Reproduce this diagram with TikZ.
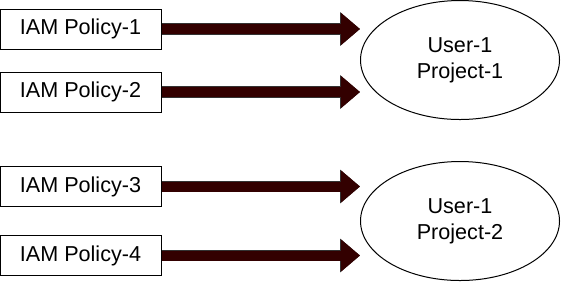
\documentclass[tikz,border=0pt]{standalone}
\usepackage{fontspec}
\setmainfont{Liberation Sans}
\usetikzlibrary{arrows.meta,shapes.geometric}
\definecolor{arrowred}{HTML}{330000}
\begin{document}
\begin{tikzpicture}[x=0.5pt,y=-0.5pt,
  policy/.style={draw,line width=0.5pt,minimum width=80.5pt,minimum height=20pt,inner sep=0pt,font=\fontsize{10.8}{13}\selectfont},
  user/.style={draw,ellipse,line width=0.5pt,minimum width=99.5pt,minimum height=59.5pt,inner sep=0pt,align=center,font=\fontsize{10.8}{13}\selectfont},
  fat/.style={draw=arrowred,line width=5pt,-{Triangle[length=9.5pt,width=15.5pt]},
    preaction={draw=black!80,line width=5.6pt,-{Triangle[length=10pt,width=16.3pt]}}}]
  \useasboundingbox (0,0) rectangle (561,281);
  % policy boxes on the left
  \node[policy] (p1) at (80.5,29) {IAM Policy-1};
  \node[policy] (p2) at (80.5,92) {IAM Policy-2};
  \node[policy] (p3) at (80.5,186.5) {IAM Policy-3};
  \node[policy] (p4) at (80.5,255.5) {IAM Policy-4};
  % user/project ellipses on the right
  \node[user] (u1) at (460,60) {User-1\\Project-1};
  \node[user] (u2) at (460,221) {User-1\\Project-2};
  % thick arrows
  \draw[fat] (p1.east) -- (p1.east -| u1.west);
  \draw[fat] (p2.east) -- (p2.east -| u1.west);
  \draw[fat] (p3.east) -- (p3.east -| u2.west);
  \draw[fat] (p4.east) -- (p4.east -| u2.west);
\end{tikzpicture}
\end{document}
